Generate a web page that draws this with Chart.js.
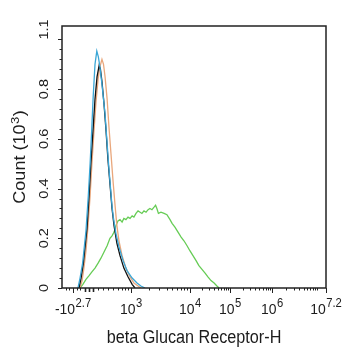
<!DOCTYPE html>
<html><head><meta charset="utf-8">
<script src="https://cdn.jsdelivr.net/npm/chart.js@4.4.1/dist/chart.umd.min.js"></script>
<style>html,body{margin:0;padding:0;background:#fff;overflow:hidden}#wrap{width:342px;height:350px}</style>
</head><body><div id="wrap"><canvas id="c" width="342" height="350"></canvas></div>
<script>
// x values are display channels (0-1024) of the biexponential axis
const blueX  = [62,70,80,93,102,109,115,121,128,135,141,147,155,161,167,175,182,186,194,199,209,221,237,252,272,291,306,322];
const blueY  = [0,0.04,0.10,0.23,0.37,0.50,0.63,0.77,0.90,0.953,0.93,0.89,0.82,0.76,0.70,0.58,0.48,0.43,0.33,0.285,0.22,0.165,0.11,0.07,0.04,0.02,0.008,0];
const blackX = [66,74,83,97,105,112,120,128,136,144,149,155,163,171,178,186,194,202,213,225,240,256,272,283];
const blackY = [0,0.04,0.10,0.24,0.37,0.50,0.63,0.76,0.85,0.895,0.88,0.83,0.74,0.63,0.52,0.42,0.32,0.25,0.18,0.13,0.08,0.045,0.015,0];
const orangeX = [70,78,85,93,101,109,116,124,132,140,147,155,161,167,175,182,190,198,206,213,221,233,248,264,279,295,306];
const orangeY = [0,0.03,0.08,0.15,0.25,0.37,0.50,0.63,0.75,0.84,0.89,0.92,0.90,0.85,0.76,0.65,0.54,0.43,0.33,0.25,0.19,0.13,0.08,0.045,0.02,0.008,0];
const greenX = [70,81,93,105,116,128,140,151,163,175,186,194,202,209,217,225,233,240,248,256,264,272,279,287,295,303,310,318,326,334,341,349,357,363,368,374,384,396,407,419,427,438,450,462,473,485,496,508,520,531,543,555,566,578,590,601,609];
const greenY = [0,0.015,0.035,0.05,0.065,0.08,0.10,0.12,0.145,0.17,0.20,0.21,0.225,0.25,0.27,0.275,0.265,0.28,0.275,0.285,0.28,0.29,0.285,0.30,0.31,0.305,0.30,0.31,0.305,0.315,0.32,0.315,0.325,0.333,0.32,0.30,0.305,0.30,0.295,0.275,0.26,0.245,0.225,0.205,0.19,0.17,0.15,0.13,0.11,0.09,0.075,0.06,0.045,0.03,0.02,0.008,0];

const xTickValues = [43, 268, 497, 652, 815, 1024];
const xTickBases  = ['-10','10','10','10','10','10'];
const xTickExps   = ['2.7','3','4','5','6','7.2'];
const xNearZeroMinor = [16, 27, 58, 70, 140, 159, 178, 198, 217, 233, 244, 256];
const xNearZeroMid = [89, 105, 120];
const yTickValues = [0, 0.2, 0.4, 0.6, 0.8, 1.04];
const yTickLabels = ['0', '0.2', '0.4', '0.6', '0.8', '1.1'];
const yTitle = 'Count (10', yTitleExp = '3', yTitleEnd = ')';
const xTitle = 'beta Glucan Receptor-H';

const FONT = "'Liberation Sans', Arial, sans-serif";
const SQ = 0.9;
const TXT = '#1c1c1c';

function pts(xs, ys){ return xs.map((x,i)=>({x:x, y:ys[i]})); }

const axesPlugin = {
  id: 'axesPlugin',
  afterDatasetsDraw(chart){
    const ctx = chart.ctx, a = chart.chartArea, xs = chart.scales.x, ys = chart.scales.y;
    ctx.save();
    ctx.strokeStyle = '#222';
    ctx.lineWidth = 1.5;
    ctx.strokeRect(a.left, a.top, a.right - a.left, a.bottom - a.top);
    ctx.lineWidth = 1;
    for (let i = 0; i <= 25; i++) {
      const py = Math.round(ys.getPixelForValue(i * 0.04)) + 0.5;
      const len = (i % 5 === 0) ? 4 : 2.5;
      ctx.beginPath(); ctx.moveTo(a.left, py); ctx.lineTo(a.left - len, py); ctx.stroke();
    }
    const xt = (v, len) => {
      const px = Math.round(xs.getPixelForValue(v)) + 0.5;
      if (px < a.left - 1 || px > a.right + 1) return;
      ctx.beginPath(); ctx.moveTo(px, a.bottom); ctx.lineTo(px, a.bottom + len); ctx.stroke();
    };
    xTickValues.forEach(v => xt(v, 5));
    xNearZeroMinor.forEach(v => xt(v, 2.5));
    ctx.lineWidth = 1.6;
    xNearZeroMid.forEach(v => xt(v, 4));
    ctx.lineWidth = 1;
    const decs = [[268, 497, 1], [497, 652, 1], [652, 815, 1], [815, 1024, 1.2]];
    decs.forEach(([s, e, n]) => {
      const span = (e - s) / n;
      for (let d = 0; d < Math.ceil(n); d++) {
        for (let k = 2; k <= 10; k++) {
          const v = s + span * (d + Math.log10(k));
          if (v < e - 1) xt(v, 2.5);
        }
      }
    });
    ctx.fillStyle = TXT;
    ctx.textBaseline = 'alphabetic';
    xTickValues.forEach((v, i) => {
      const px = xs.getPixelForValue(v);
      ctx.font = '15.5px ' + FONT;
      const wb = ctx.measureText(xTickBases[i]).width * SQ;
      ctx.font = '12.5px ' + FONT;
      const we = ctx.measureText(xTickExps[i]).width * SQ;
      const start = px - (wb + we + 0.5) / 2;
      ctx.save(); ctx.translate(start, a.bottom + 26); ctx.scale(SQ, 1);
      ctx.font = '15.5px ' + FONT; ctx.textAlign = 'left'; ctx.fillText(xTickBases[i], 0, 0);
      ctx.restore();
      ctx.save(); ctx.translate(start + wb + 0.5, a.bottom + 19); ctx.scale(SQ, 1);
      ctx.font = '12.5px ' + FONT; ctx.textAlign = 'left'; ctx.fillText(xTickExps[i], 0, 0);
      ctx.restore();
    });
    yTickValues.forEach((v, i) => {
      const py = ys.getPixelForValue(v);
      ctx.save(); ctx.translate(a.left - 14.5, py); ctx.scale(SQ, 1); ctx.rotate(-Math.PI / 2);
      ctx.font = '14.5px ' + FONT; ctx.textAlign = 'center'; ctx.fillText(yTickLabels[i], 0, 0);
      ctx.restore();
    });
    ctx.save(); ctx.translate((a.left + a.right) / 2, 343); ctx.scale(SQ, 1);
    ctx.font = '18px ' + FONT; ctx.textAlign = 'center'; ctx.fillText(xTitle, 0, 0);
    ctx.restore();
    ctx.font = '18px ' + FONT;
    const w1 = ctx.measureText(yTitle).width, w3 = ctx.measureText(yTitleEnd).width;
    ctx.font = '13px ' + FONT;
    const w2 = ctx.measureText(yTitleExp).width;
    const total = w1 + w2 + w3 + 1;
    const cy = (a.top + a.bottom) / 2;
    ctx.save(); ctx.translate(25, cy); ctx.scale(SQ, 1); ctx.rotate(-Math.PI / 2);
    ctx.textAlign = 'left';
    ctx.font = '18px ' + FONT; ctx.fillText(yTitle, -total / 2, 0);
    ctx.font = '13px ' + FONT; ctx.fillText(yTitleExp, -total / 2 + w1 + 0.5, -7);
    ctx.font = '18px ' + FONT; ctx.fillText(yTitleEnd, -total / 2 + w1 + w2 + 1, 0);
    ctx.restore();
    ctx.restore();
  }
};

const ds = (label, xs, ys, color) => ({
  label: label, data: pts(xs, ys), borderColor: color, borderWidth: 1.3,
  pointRadius: 0, tension: 0, fill: false
});

new Chart(document.getElementById('c'), {
  type: 'line',
  data: {
    datasets: [
      ds('Isotype blue', blueX, blueY, '#3aa6d6'),
      ds('Control black', blackX, blackY, '#111111'),
      ds('Control orange', orangeX, orangeY, '#e9a77c'),
      ds('beta Glucan Receptor', greenX, greenY, '#66cc55')
    ]
  },
  options: {
    responsive: false,
    animation: false,
    devicePixelRatio: 1,
    layout: { padding: { left: 62, right: 16, top: 26, bottom: 62 } },
    plugins: { legend: { display: false }, tooltip: { enabled: false } },
    scales: {
      x: { type: 'linear', min: 0, max: 1024, display: false },
      y: { type: 'linear', min: 0, max: 1.054, display: false }
    }
  },
  plugins: [axesPlugin]
});
</script>
</body></html>
